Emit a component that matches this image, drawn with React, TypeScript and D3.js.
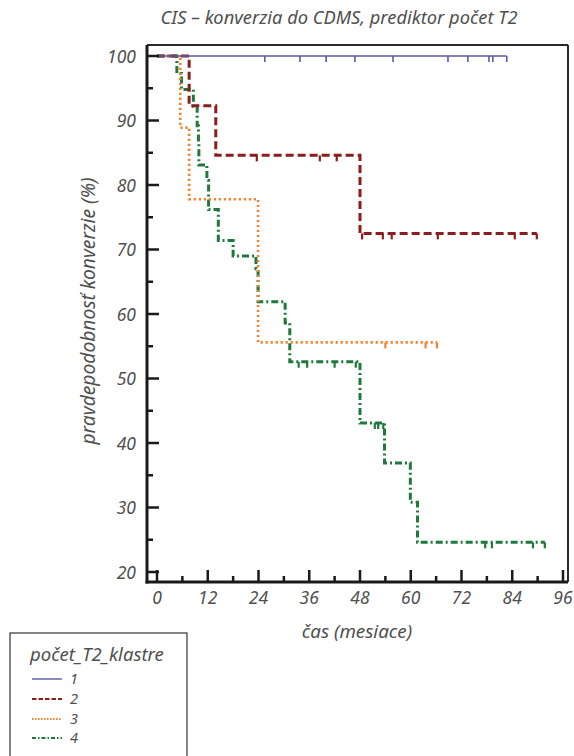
import React, { useEffect, useRef } from "react";
import * as d3 from "d3";

const W = 574;
const H = 756;

const titleText = "CIS – konverzia do CDMS, prediktor počet T2";
const yAxisLabel = "pravdepodobnosť konverzie (%)";
const xAxisLabel = "čas (mesiace)";
const legendTitle = "počet_T2_klastre";

const xTicks = [0, 12, 24, 36, 48, 60, 72, 84, 96];
const xMinorTicks = [6, 18, 30, 42, 54, 66, 78, 90];
const yTicks = [20, 30, 40, 50, 60, 70, 80, 90, 100];
const yMinorTicks = [25, 35, 45, 55, 65, 75, 85, 95];

const seriesNames = ["1", "2", "3", "4"];
const seriesColors = ["#5a5aa6", "#8c1d1d", "#f5822a", "#1e7a3a"];
const seriesDash = ["none", "8,4", "2.2,2.8", "7,3,2,3"];
const seriesWidth = [1.6, 3, 2.6, 3];

// step points [time, survival]; last point = end of follow-up
const s1Steps: [number, number][] = [[0, 100], [82.7, 100]];
const s1Censor = [25.5, 33.8, 40, 46.8, 55.8, 68.8, 73.5, 78.5, 79.4, 82.7];

const s2Steps: [number, number][] = [[0, 100], [7.6, 92.3], [13.9, 84.6], [48, 72.5], [89.8, 72.5]];
const s2Censor = [23.6, 38.5, 42.5, 48.5, 53.4, 55.5, 66.4, 84.6, 89.8];

const s3Steps: [number, number][] = [[0, 100], [5.5, 88.9], [7.6, 77.8], [23.9, 55.6], [66.2, 55.6]];
const s3Censor = [54, 63.5, 66.2];

const s4Steps: [number, number][] = [
  [0, 100], [4.7, 97.3], [5.8, 94.8], [8.6, 92.2], [9.5, 89.2], [9.8, 86.5], [9.9, 83.1],
  [11.8, 80.7], [12.2, 76.2], [14.5, 71.4], [18.0, 69.0], [23.4, 67.0], [23.9, 61.9],
  [30.3, 58.6], [31.4, 52.6], [48.0, 43.1], [53.8, 36.9], [59.9, 30.8], [61.6, 24.6], [91.7, 24.6],
];
const s4Censor = [33.5, 35.5, 42, 47, 51.5, 52.3, 53.5, 77.6, 79.2, 88.9, 91.7];

const allSteps = [s1Steps, s2Steps, s3Steps, s4Steps];
const allCensor = [s1Censor, s2Censor, s3Censor, s4Censor];

const FONT = "'Noto Sans', 'Open Sans', sans-serif";
const TXT = "#4f4f4f";

export default function App() {
  const ref = useRef<SVGSVGElement | null>(null);

  useEffect(() => {
    const svg = d3.select(ref.current);
    svg.selectAll("*").remove();

    const x = d3.scaleLinear().domain([0, 96]).range([157, 563]);
    const y = d3.scaleLinear().domain([20, 100]).range([572, 56]);
    const left = 147, right = 568, top = 45, bottom = 582;

    const txt = (sel: any, size: number) =>
      sel.attr("font-family", FONT).attr("font-style", "italic").attr("font-size", size)
        .attr("fill", TXT);

    // title
    txt(svg.append("text").attr("x", 339).attr("y", 24).attr("text-anchor", "middle"), 18.3)
      .text(titleText);

    // frame top/right
    svg.append("line").attr("x1", left).attr("x2", right).attr("y1", top).attr("y2", top)
      .attr("stroke", "#2a2a2a").attr("stroke-width", 2);
    svg.append("line").attr("x1", right).attr("x2", right).attr("y1", top).attr("y2", bottom)
      .attr("stroke", "#2a2a2a").attr("stroke-width", 2);

    // curves
    const line = d3.line<[number, number]>().x(d => x(d[0])).y(d => y(d[1])).curve(d3.curveStepAfter);
    const order = [3, 2, 1, 0];
    order.forEach(i => {
      const g = svg.append("g");
      g.append("path").attr("d", line(allSteps[i]) as string).attr("fill", "none")
        .attr("stroke", seriesColors[i]).attr("stroke-width", seriesWidth[i])
        .attr("stroke-dasharray", seriesDash[i]);
      const steps = allSteps[i];
      const valAt = (t: number) => {
        let v = steps[0][1];
        for (const s of steps) if (s[0] <= t) v = s[1];
        return v;
      };
      g.selectAll("line.c").data(allCensor[i]).enter().append("line")
        .attr("x1", d => x(d)).attr("x2", d => x(d))
        .attr("y1", d => y(valAt(d))).attr("y2", d => y(valAt(d)) + 6)
        .attr("stroke", seriesColors[i]).attr("stroke-width", i === 0 ? 1.6 : 2.2);
    });

    // axes
    const ax = svg.append("g").attr("stroke", "#1a1a1a");
    ax.append("line").attr("x1", left).attr("x2", left).attr("y1", top).attr("y2", bottom + 1.5)
      .attr("stroke-width", 3);
    ax.append("line").attr("x1", left - 1.5).attr("x2", right).attr("y1", bottom).attr("y2", bottom)
      .attr("stroke-width", 3);
    yTicks.forEach(t => ax.append("line").attr("x1", left).attr("x2", left + 12)
      .attr("y1", y(t)).attr("y2", y(t)).attr("stroke-width", 2.5));
    yMinorTicks.forEach(t => ax.append("line").attr("x1", left).attr("x2", left + 6)
      .attr("y1", y(t)).attr("y2", y(t)).attr("stroke-width", 2.5));
    xTicks.forEach(t => ax.append("line").attr("x1", x(t)).attr("x2", x(t))
      .attr("y1", bottom).attr("y2", bottom - 12).attr("stroke-width", 2.5));
    xMinorTicks.forEach(t => ax.append("line").attr("x1", x(t)).attr("x2", x(t))
      .attr("y1", bottom).attr("y2", bottom - 6).attr("stroke-width", 2.5));

    txt(svg.selectAll("text.yt").data(yTicks).enter().append("text")
      .attr("x", 136).attr("y", (d: number) => y(d) + 6.5).attr("text-anchor", "end"), 17.5)
      .text((d: number) => String(d));
    txt(svg.selectAll("text.xt").data(xTicks).enter().append("text")
      .attr("x", (d: number) => x(d)).attr("y", 604).attr("text-anchor", "middle"), 17.5)
      .text((d: number) => String(d));

    txt(svg.append("text").attr("transform", `translate(95,${311}) rotate(-90)`)
      .attr("text-anchor", "middle"), 19.2).text(yAxisLabel);
    txt(svg.append("text").attr("x", 357).attr("y", 638).attr("text-anchor", "middle"), 18.8)
      .text(xAxisLabel);

    // legend
    svg.append("rect").attr("x", 10).attr("y", 633).attr("width", 177).attr("height", 140)
      .attr("fill", "none").attr("stroke", "#333").attr("stroke-width", 1.2);
    txt(svg.append("text").attr("x", 30).attr("y", 661), 18.5).text(legendTitle);
    const ly = [684, 704, 724, 743];
    seriesNames.forEach((n, i) => {
      svg.append("line").attr("x1", 32).attr("x2", 62).attr("y1", ly[i] - 5).attr("y2", ly[i] - 5)
        .attr("stroke", seriesColors[i]).attr("stroke-width", i === 0 ? 1.4 : 1.8)
        .attr("stroke-dasharray", i === 1 ? "4.5,2" : i === 2 ? "1.5,1.5" : i === 3 ? "4,2,1.5,2" : "none");
      txt(svg.append("text").attr("x", 70).attr("y", ly[i]), 14.5).text(n);
    });
  }, []);

  return (
    <svg ref={ref} width={W} height={H}
      style={{ position: "absolute", left: 0, top: 0, background: "#fff" }} />
  );
}
